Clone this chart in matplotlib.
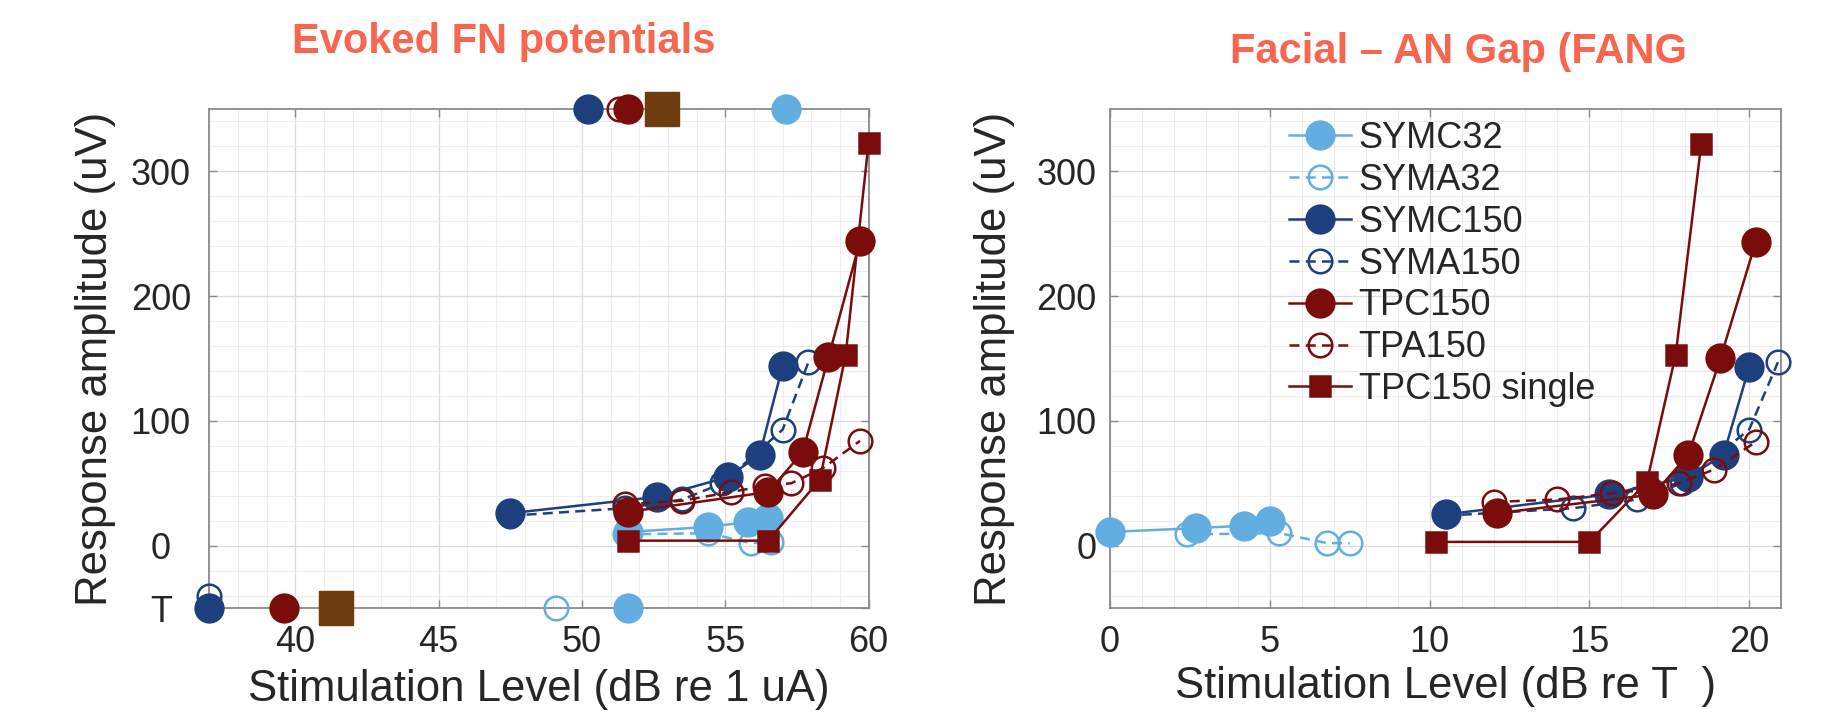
"""
Evoked FN potentials / Facial - AN gap (FANG) amplitude growth functions
"""

import matplotlib.pyplot as plt
from matplotlib.ticker import MultipleLocator

plt.rcParams['font.family'] = ['Liberation Sans', 'DejaVu Sans']

# ---------------- data: left panel (dB re 1 uA) ----------------
symc32_x = [51.6, 54.4, 55.8, 56.5]
symc32_y = [11, 15, 19, 22]
syma32_x = [51.5, 54.4, 55.9, 56.6]
syma32_y = [9, 10, 2, 3]
symc150_x = [47.5, 52.6, 55.1, 56.2, 57.0]
symc150_y = [26, 39, 55, 73, 144]
syma150_x = [47.5, 51.5, 53.5, 54.9, 57.0, 57.9]
syma150_y = [24, 30, 37, 50, 93, 147]
tpc150_x = [51.6, 56.5, 57.7, 58.6, 59.7]
tpc150_y = [27, 43, 75, 151, 244]
tpa150_x = [51.5, 53.5, 55.2, 56.4, 57.3, 58.4, 59.7]
tpa150_y = [33, 36, 43, 48, 50, 62, 84]
tpcs_x = [51.6, 56.5, 58.3, 59.2, 60.0]
tpcs_y = [4, 4, 53, 153, 323]

# threshold row ("T") and top row markers, left panel
thr_x = {'SYMC32': 51.6, 'SYMA32': 49.1, 'SYMC150': 37.0, 'SYMA150': 37.0, 'TPC150': 39.6}
thr_y = {'SYMC32': -50, 'SYMA32': -50, 'SYMC150': -50, 'SYMA150': -40, 'TPC150': -50}
top_x = {'SYMC150': 50.2, 'TPA150': 51.3, 'TPC150': 51.6, 'SYMC32': 57.1}
brown_x = [41.4, 52.8]
brown_y = [-50, 350]

# ---------------- data: right panel (dB re T) ----------------
symc32_rx = [0.0, 2.7, 4.2, 5.0]
symc32_ry = [11, 14, 16, 20]
syma32_rx = [2.4, 5.3, 6.8, 7.5]
syma32_ry = [9, 10, 2, 2]
symc150_rx = [10.5, 15.6, 18.1, 19.2, 20.0]
symc150_ry = [25, 41, 55, 73, 143]
syma150_rx = [10.5, 14.5, 16.5, 17.9, 20.0, 20.9]
syma150_ry = [24, 30, 37, 50, 93, 147]
tpc150_rx = [12.1, 17.0, 18.1, 19.1, 20.2]
tpc150_ry = [26, 41, 73, 150, 243]
tpa150_rx = [12.0, 14.0, 15.7, 16.9, 17.8, 18.9, 20.2]
tpa150_ry = [35, 37, 42, 45, 50, 61, 83]
tpcs_rx = [10.2, 15.0, 16.8, 17.7, 18.5]
tpcs_ry = [3, 3, 51, 153, 322]

left_xticks = [40, 45, 50, 55, 60]
left_yticks = [-50, 0, 100, 200, 300]
left_yticklabels = ['T', '0', '100', '200', '300']
right_xticks = [0, 5, 10, 15, 20]
right_yticks = [0, 100, 200, 300]

# ---------------- styles ----------------
LBLUE = '#62AEE0'
DBLUE = '#1E3F7E'
DRED = '#7B0C0C'
BROWN = '#6E3C0E'
TITLE_C = '#F96650'
TEXT_C = '#262626'
AX_C = '#8A8A8A'

DASH = (0, (4, 2.5))
styles = {
    'SYMC32': dict(color=LBLUE, marker='o', filled=True, ls='-', ms=20),
    'SYMA32': dict(color=LBLUE, marker='o', filled=False, ls=DASH, ms=17),
    'SYMC150': dict(color=DBLUE, marker='o', filled=True, ls='-', ms=20),
    'SYMA150': dict(color=DBLUE, marker='o', filled=False, ls=DASH, ms=17),
    'TPC150': dict(color=DRED, marker='o', filled=True, ls='-', ms=20),
    'TPA150': dict(color=DRED, marker='o', filled=False, ls=DASH, ms=17),
    'TPC150 single': dict(color=DRED, marker='s', filled=True, ls='-', ms=15),
}

left_series = [
    ('SYMC32', symc32_x, symc32_y), ('SYMA32', syma32_x, syma32_y),
    ('SYMC150', symc150_x, symc150_y), ('SYMA150', syma150_x, syma150_y),
    ('TPC150', tpc150_x, tpc150_y), ('TPA150', tpa150_x, tpa150_y),
    ('TPC150 single', tpcs_x, tpcs_y),
]
right_series = [
    ('SYMC32', symc32_rx, symc32_ry), ('SYMA32', syma32_rx, syma32_ry),
    ('SYMC150', symc150_rx, symc150_ry), ('SYMA150', syma150_rx, syma150_ry),
    ('TPC150', tpc150_rx, tpc150_ry), ('TPA150', tpa150_rx, tpa150_ry),
    ('TPC150 single', tpcs_rx, tpcs_ry),
]


def draw(ax, name, x, y, ls=None, label=None):
    st = styles[name]
    ax.plot(x, y, ls=st['ls'] if ls is None else ls, color=st['color'], lw=1.8,
            marker=st['marker'], ms=st['ms'],
            mfc=st['color'] if st['filled'] else 'none', mec=st['color'], mew=1.8,
            clip_on=False, zorder=3, label=label)


def style_axes(ax, xlim, xticks):
    ax.set_xlim(*xlim)
    ax.set_ylim(-50, 350)
    ax.set_xticks(xticks)
    ax.xaxis.set_minor_locator(MultipleLocator(1))
    ax.yaxis.set_minor_locator(MultipleLocator(20))
    ax.grid(which='major', color='#DCDCDC', lw=0.9)
    ax.grid(which='minor', color='#EDEDED', lw=0.8)
    ax.set_axisbelow(True)
    ax.tick_params(which='major', direction='in', top=True, right=True, length=6,
                   width=1, color=AX_C, labelcolor=TEXT_C, labelsize=26)
    ax.tick_params(axis='x', pad=12)
    ax.tick_params(which='minor', length=0)
    for sp in ax.spines.values():
        sp.set_color(AX_C)
        sp.set_linewidth(1.3)


fig = plt.figure(figsize=(18.21, 7.17), dpi=100)
ax1 = fig.add_axes([0.1150, 0.152, 0.3620, 0.696])
ax2 = fig.add_axes([0.6096, 0.152, 0.3685, 0.696])

# ---- left panel ----
style_axes(ax1, (37, 60), left_xticks)
ax1.set_yticks(left_yticks)
ax1.set_yticklabels(left_yticklabels, ha='center')
ax1.tick_params(axis='y', pad=35)
for name, x, y in left_series:
    draw(ax1, name, x, y)
for name in thr_x:
    draw(ax1, name, [thr_x[name]], [thr_y[name]], ls='none')
for name in top_x:
    draw(ax1, name, [top_x[name]], [350], ls='none')
ax1.plot(brown_x, brown_y, ls='none', marker='s', ms=24, color=BROWN, clip_on=False, zorder=4)
ax1.set_xlabel('Stimulation Level (dB re 1 uA)', fontsize=31.5, color=TEXT_C)
ax1.set_ylabel('Response amplitude (uV)', fontsize=31.5, color=TEXT_C)
ax1.xaxis.set_label_coords(0.5, -0.122)
ax1.yaxis.set_label_coords(-0.142, 0.5)

# ---- right panel ----
style_axes(ax2, (0, 21), right_xticks)
ax2.set_yticks(right_yticks)
ax2.tick_params(axis='y', pad=10)
for name, x, y in right_series:
    draw(ax2, name, x, y, label=name)
ax2.set_xlabel('Stimulation Level (dB re T  )', fontsize=31.5, color=TEXT_C)
ax2.set_ylabel('Response amplitude (uV)', fontsize=31.5, color=TEXT_C)
ax2.xaxis.set_label_coords(0.5, -0.117)
ax2.yaxis.set_label_coords(-0.142, 0.5)
leg = ax2.legend(loc='upper left', bbox_to_anchor=(0.266, 0.976), frameon=False,
                 fontsize=26, handlelength=1.72, handletextpad=0.22, labelspacing=0.19,
                 borderaxespad=0, borderpad=0)
for t in leg.get_texts():
    t.set_color(TEXT_C)

fig.text(504 / 1821, 1 - 53 / 717, 'Evoked FN potentials', ha='center', va='baseline',
         fontsize=30, weight='bold', color=TITLE_C)
fig.text(1459 / 1821, 1 - 63 / 717, 'Facial \u2013 AN Gap (FANG', ha='center', va='baseline',
         fontsize=30, weight='bold', color=TITLE_C)

fig.savefig('out.png', dpi=100)
